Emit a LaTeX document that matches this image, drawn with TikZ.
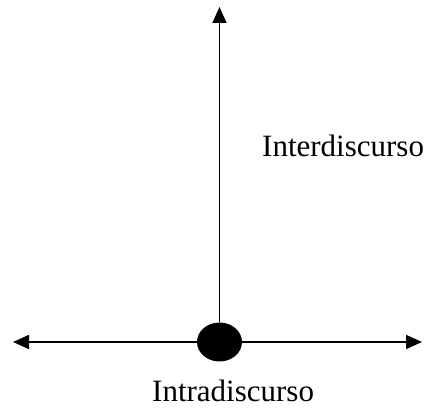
\documentclass[tikz,border=0pt]{standalone}
\usepackage{fontspec}
\setmainfont{Liberation Serif}
\usetikzlibrary{arrows.meta,shapes.geometric}
\begin{document}
\begin{tikzpicture}[x=1pt,y=1pt,
  axis/.style={line width=1.7pt,-{Triangle[length=16pt,width=14pt]}},
  lbl/.style={inner sep=0pt,font=\fontsize{31}{31}\selectfont}]
\useasboundingbox (0,0) rectangle (429,409);
\coordinate (L) at (13,67);
\coordinate (R) at (422,67);
\coordinate (T) at (219.5,402);
\node[ellipse,fill=black,minimum width=45pt,minimum height=39pt,inner sep=0pt] (c) at (219.5,67) {};
\draw[axis] (c.north) -- (T);
\draw[axis] (c.west) -- (L);
\draw[axis] (c.east) -- (R);
\node[lbl,anchor=base west] (inter) at (262,252) {Interdiscurso};
\node[lbl,anchor=base west] (intra) at (152,7) {Intradiscurso};
\end{tikzpicture}
\end{document}
